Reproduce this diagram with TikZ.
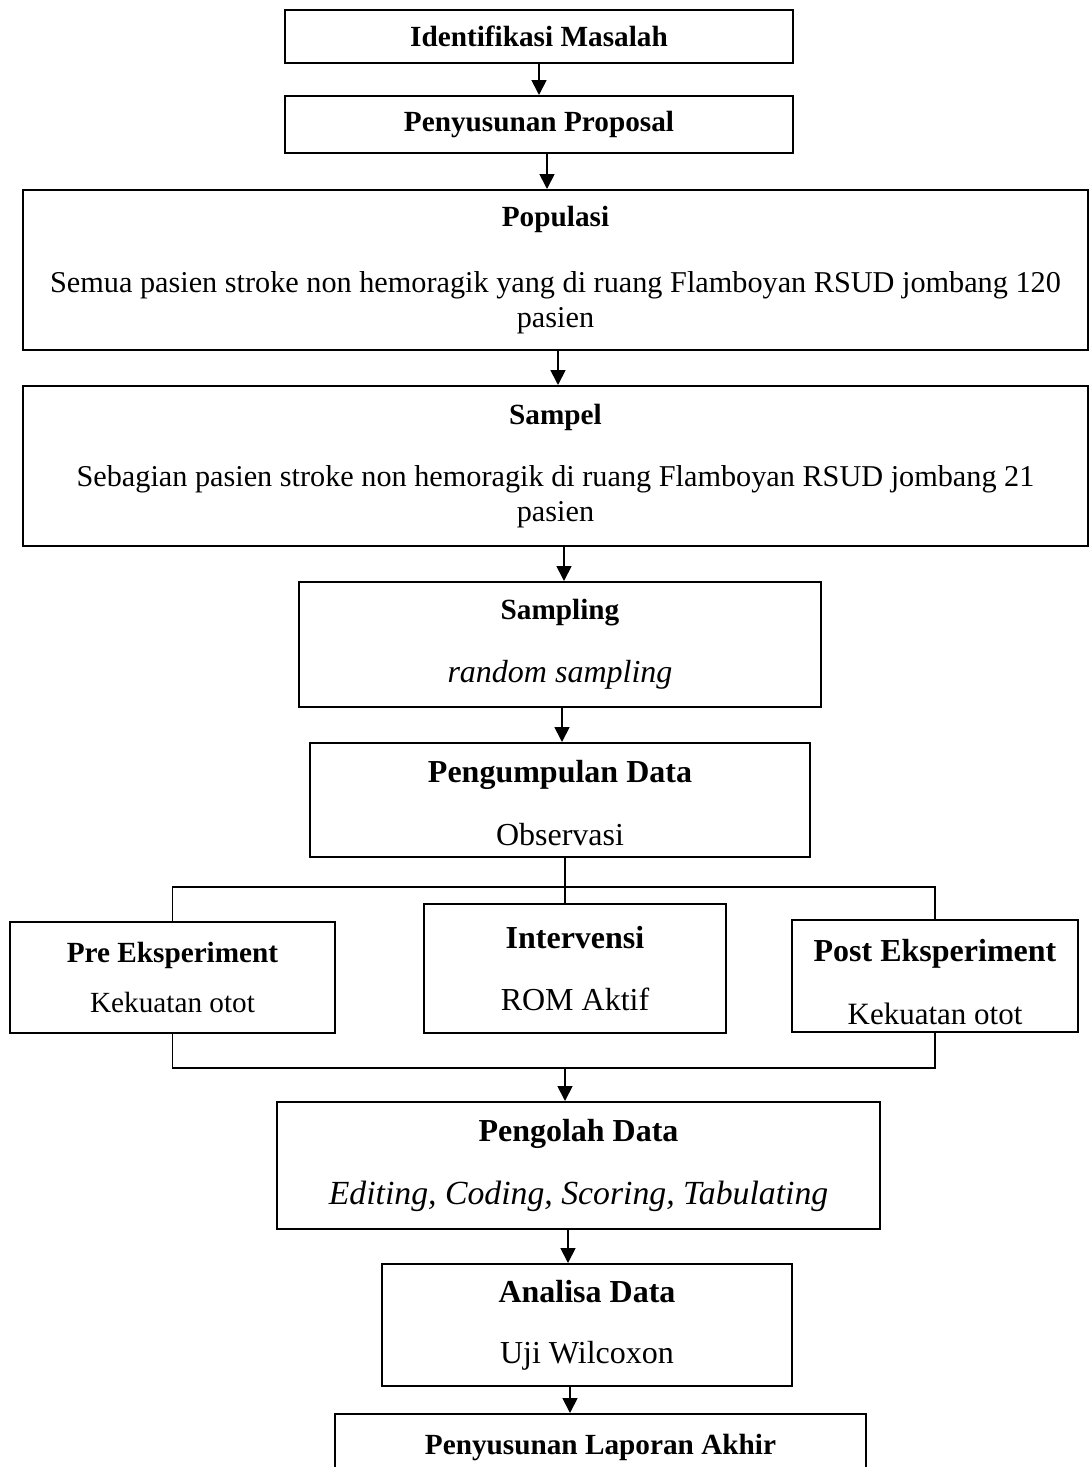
\documentclass[tikz,border=0pt]{standalone}
\usepackage{fontspec}
\setmainfont{Liberation Serif}
\usetikzlibrary{arrows.meta}
\newcommand{\fsm}{\fontsize{11.7}{14}\selectfont}
\newcommand{\fmd}{\fontsize{12.1}{14}\selectfont}
\newcommand{\fbg}{\fontsize{12.8}{14}\selectfont}

\begin{document}
\begin{tikzpicture}[x=0.4pt, y=-0.4pt,
    box/.style={rectangle, draw, line width=0.8pt, inner sep=0pt, align=center},
    arr/.style={-{Triangle[length=6pt,width=6pt]}, line width=0.7pt},
    link/.style={line width=0.7pt}
]
    \useasboundingbox (0,0) rectangle (1089,1467);

    \node[box, font=\fsm\bfseries, minimum width=203.2pt, minimum height=21.2pt] (idm) at (539,36.5) {Identifikasi Masalah};
    \node[box, font=\fsm\bfseries, minimum width=203.2pt, minimum height=22.8pt] (prop) at (539,124.5) {Penyusunan Proposal};
    \node[box, font=\fmd, minimum width=426pt, minimum height=64pt] (pop) at (555.5,270) {\fsm\bfseries Populasi\\[12.5pt]Semua pasien stroke non hemoragik yang di ruang Flamboyan RSUD jombang 120\\pasien};
    \node[box, font=\fmd, minimum width=426pt, minimum height=64pt] (smp) at (555.5,466) {\fsm\bfseries Sampel\\[11pt]Sebagian pasien stroke non hemoragik di ruang Flamboyan RSUD jombang 21\\pasien};
    \node[box, font=\fbg, minimum width=208.8pt, minimum height=50pt] (smpl) at (560,644.5) {\fsm\bfseries Sampling\\[11pt]\itshape random sampling};
    \node[box, font=\fbg, minimum width=200pt, minimum height=45.6pt] (pgd) at (560,800) {\bfseries\rule{0pt}{11.5pt}Pengumpulan Data\\[11pt]Observasi};
    \node[box, font=\fsm, minimum width=130pt, minimum height=44.4pt] (pre) at (172.5,977.5) {\bfseries Pre Eksperiment\\[6pt]Kekuatan otot};
    \node[box, font=\fbg, minimum width=120.8pt, minimum height=51.6pt] (itv) at (575,968.5) {\bfseries Intervensi\\[11pt]ROM Aktif};
    \node[box, font=\fontsize{12.4}{14}\selectfont, minimum width=114.4pt, minimum height=44.8pt] (post) at (935,976) {\fbg\bfseries\rule{0pt}{13.7pt}Post Eksperiment\\[11.5pt]Kekuatan otot};
    \node[box, font=\fontsize{13.5}{14}\selectfont, minimum width=241.2pt, minimum height=50.8pt] (pgl) at (578.5,1165.5) {\fbg\bfseries Pengolah Data\\[11pt]\itshape Editing, Coding, Scoring, Tabulating};
    \node[box, font=\fbg, minimum width=164pt, minimum height=48.8pt] (ana) at (587,1325) {\bfseries Analisa Data\\[10.4pt]Uji Wilcoxon};
    \node[box, font=\fsm\bfseries, minimum width=212.4pt, minimum height=26.4pt] (lap) at (600.5,1447) {Penyusunan Laporan Akhir};
    \coordinate (jn) at (565,1067);

    \draw[arr] (idm) -- (prop);
    \draw[arr] ([xshift=3.2pt]prop.south) -- ([xshift=-3.4pt]pop.north);
    \draw[arr] ([xshift=1pt]pop.south) -- ([xshift=1pt]smp.north);
    \draw[arr] ([xshift=3.4pt]smp.south) -- ([xshift=1.6pt]smpl.north);
    \draw[arr] ([xshift=0.8pt]smpl.south) -- ([xshift=0.8pt]pgd.north);
    \draw[link] ([xshift=2pt]pgd.south) -- ([xshift=-4pt]itv.north);
    \draw[link] (pre.north) -- ++(0,-34) -| (post.north);
    \draw[link] (pre.south) -- ++(0,34) -| (post.south);
    \draw[arr] (jn) -- (jn |- pgl.north);
    \draw[arr] ([xshift=-4.2pt]pgl.south) -- ([xshift=-7.6pt]ana.north);
    \draw[arr] ([xshift=-6.8pt]ana.south) -- ([xshift=-12.2pt]lap.north);
\end{tikzpicture}
\end{document}
